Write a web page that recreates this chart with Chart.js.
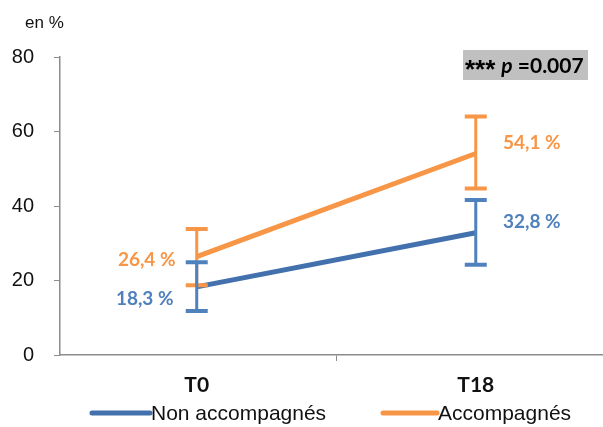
<!DOCTYPE html>
<html>
<head>
<meta charset="utf-8">
<script src="https://cdn.jsdelivr.net/npm/chart.js@4"></script>
<style>
  html, body { margin: 0; padding: 0; background: #fff; }
  #wrap { width: 603px; height: 427px; position: relative; }
</style>
</head>
<body>
<div id="wrap"><canvas id="c" width="603" height="427"></canvas></div>
<script>
// Time points and measured percentages
const categories = ['T0', 'T18'];
const seriesNames = ['Non accompagnés', 'Accompagnés'];
const nonAccompagnes = [18.3, 32.8];
const accompagnes = [26.4, 54.1];
// Confidence interval bounds (low / high) per time point
const nonAccLow = [11.8, 24.2];
const nonAccHigh = [24.9, 41.6];
const accLow = [18.7, 44.7];
const accHigh = [33.8, 64.0];
const yTicks = [0, 20, 40, 60, 80];
const unitLabel = 'en %';
const pValueText = { stars: '***', p: 'p', rest: ' =0.007' };

const BLUE = '#4f81bd';
const BLUE_LINE = '#4371ad';
const ORANGE = '#f79646';
const AXIS = '#8c8c8c';

const toPoints = vals => vals.map((v, i) => ({ x: i, y: v }));
const fmt = v => v.toFixed(1).replace('.', ',') + ' %';

const series = [
  { name: seriesNames[0], values: nonAccompagnes, low: nonAccLow, high: nonAccHigh, color: BLUE, line: BLUE_LINE,
    labelDx: -52, labelDy: 12 },
  { name: seriesNames[1], values: accompagnes, low: accLow, high: accHigh, color: ORANGE, line: ORANGE,
    labelDx: -50, labelDy: 3 }
];
const rightLabelDx = 56;
const LABEL_FONT = 'bold 19px Lato, "Open Sans", sans-serif';

const overlay = {
  id: 'overlay',
  afterDatasetsDraw(chart) {
    const { ctx, scales: { x, y } } = chart;
    ctx.save();
    // error bars: orange first, blue on top
    [series[1], series[0]].forEach(s => {
      s.values.forEach((v, i) => {
        const px = x.getPixelForValue(i);
        const yl = y.getPixelForValue(s.low[i]);
        const yh = y.getPixelForValue(s.high[i]);
        ctx.strokeStyle = s.color;
        ctx.lineWidth = 3;
        ctx.beginPath();
        ctx.moveTo(px, yl); ctx.lineTo(px, yh);
        ctx.stroke();
        ctx.lineWidth = 4;
        ctx.beginPath();
        ctx.moveTo(px - 11, yl); ctx.lineTo(px + 11, yl);
        ctx.moveTo(px - 11, yh); ctx.lineTo(px + 11, yh);
        ctx.stroke();
      });
    });
    // value labels
    ctx.font = LABEL_FONT;
    ctx.textAlign = 'center';
    ctx.textBaseline = 'middle';
    series.forEach(s => {
      s.values.forEach((v, i) => {
        const px = x.getPixelForValue(i);
        const py = y.getPixelForValue(v);
        ctx.fillStyle = s.color;
        if (i === 0) {
          ctx.fillText(fmt(v), px + s.labelDx, py + s.labelDy);
        } else {
          ctx.fillText(fmt(v), px + rightLabelDx, py - 11);
        }
      });
    });
    // significance box
    ctx.fillStyle = '#c0c0c0';
    ctx.fillRect(463, 50, 125, 30);
    ctx.fillStyle = '#000';
    ctx.textAlign = 'left';
    ctx.textBaseline = 'alphabetic';
    let tx = 465;
    const ty = 73;
    ctx.font = 'bold 26px "Liberation Sans", Arial, sans-serif';
    ctx.fillText(pValueText.stars, tx, ty + 5);
    tx += ctx.measureText(pValueText.stars).width + 6;
    ctx.font = 'italic bold 21px Lato, sans-serif';
    ctx.fillText(pValueText.p, tx, ty);
    tx += ctx.measureText(pValueText.p).width;
    ctx.font = 'bold 21px Lato, sans-serif';
    ctx.fillText(pValueText.rest, tx, ty);
    // unit label
    ctx.font = '17px "Liberation Sans", Arial, sans-serif';
    ctx.fillStyle = '#111';
    ctx.fillText(unitLabel, 25, 28);
    // legend
    const ly = 413;
    ctx.font = '21px "Liberation Sans", Arial, sans-serif';
    ctx.textBaseline = 'middle';
    const legendItems = [
      { x0: 92, x1: 150, color: BLUE_LINE, text: series[0].name },
      { x0: 383, x1: 437, color: ORANGE, text: series[1].name }
    ];
    legendItems.forEach(it => {
      ctx.strokeStyle = it.color;
      ctx.lineWidth = 5;
      ctx.lineCap = 'round';
      ctx.beginPath();
      ctx.moveTo(it.x0, ly); ctx.lineTo(it.x1, ly);
      ctx.stroke();
      ctx.fillStyle = '#111';
      ctx.fillText(it.text, it.x1 + 1, ly + 1);
    });
    ctx.restore();
  }
};

new Chart(document.getElementById('c'), {
  type: 'line',
  data: {
    datasets: [
      { label: seriesNames[0], data: toPoints(nonAccompagnes), borderColor: BLUE_LINE, borderWidth: 5,
        pointRadius: 0, order: 2 },
      { label: seriesNames[1], data: toPoints(accompagnes), borderColor: ORANGE, borderWidth: 5,
        pointRadius: 0, order: 1 }
    ]
  },
  options: {
    responsive: false,
    animation: false,
    layout: { padding: { top: 57, left: 0, right: 0, bottom: 0 } },
    plugins: { legend: { display: false }, tooltip: { enabled: false } },
    scales: {
      x: {
        type: 'linear',
        min: -0.49,
        max: 1.456,
        afterBuildTicks(scale) {
          scale.ticks = [{ value: 0 }, { value: 0.5 }, { value: 1 }];
        },
        afterFit(scale) { scale.height = 72; },
        border: { color: AXIS, width: 1.5 },
        grid: {
          drawOnChartArea: false,
          tickLength: 6,
          tickColor: ctx => (ctx.tick && ctx.tick.value === 0.5) ? AXIS : 'rgba(0,0,0,0)'
        },
        ticks: {
          autoSkip: false,
          maxRotation: 0,
          padding: 12,
          color: '#111',
          font: { family: 'Lato, "Open Sans", sans-serif', size: 21, weight: 'bold' },
          callback: v => (v === 0 || v === 1) ? categories[v] : ''
        }
      },
      y: {
        min: 0,
        max: 80,
        afterBuildTicks(scale) { scale.ticks = yTicks.map(v => ({ value: v })); },
        afterFit(scale) { scale.width = 60; },
        border: { color: AXIS, width: 1.5 },
        grid: { drawOnChartArea: false, tickLength: 6, tickColor: AXIS },
        ticks: {
          padding: 20,
          color: '#111',
          font: { family: '"Liberation Sans", Arial, sans-serif', size: 20 }
        }
      }
    }
  },
  plugins: [overlay]
});
</script>
</body>
</html>
